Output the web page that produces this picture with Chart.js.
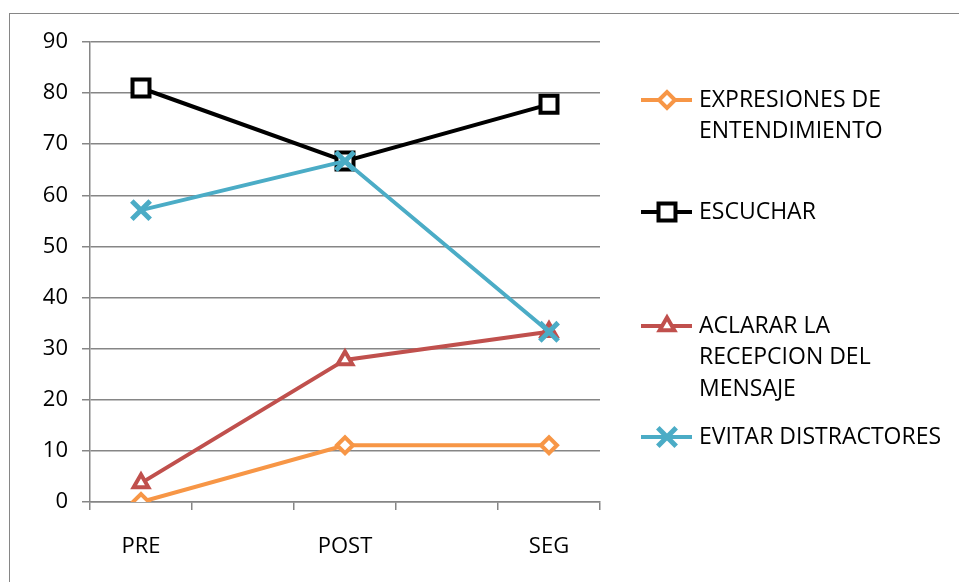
<!DOCTYPE html>
<html>
<head>
<meta charset="utf-8">
<script src="https://cdn.jsdelivr.net/npm/chart.js@4/dist/chart.umd.min.js"></script>
<style>
  html, body { margin: 0; padding: 0; background: #fff; overflow: hidden; }
  #wrap { position: relative; width: 959px; height: 582px; }
  #frame { position: absolute; left: 9px; top: 13px; width: 1200px; height: 900px;
           border: 1px solid #868686; box-sizing: border-box; }
  canvas { position: absolute; left: 0; top: 0; }
</style>
</head>
<body>
<div id="wrap">
  <div id="frame"></div>
  <canvas id="c" width="959" height="582"></canvas>
</div>
<script>
// Measurement phases
const categories = ['PRE', 'POST', 'SEG'];

// Series (percentages per phase)
const expresiones = [0, 11.1, 11.1];
const escuchar    = [81, 66.7, 77.8];
const aclarar     = [3.7, 27.8, 33.3];
const evitar      = [57.1, 66.7, 33.3];

// Legend labels, one entry per series, split into lines
const seriesLabels = [
  ['EXPRESIONES DE', 'ENTENDIMIENTO'],
  ['ESCUCHAR'],
  ['ACLARAR LA', 'RECEPCION DEL', 'MENSAJE'],
  ['EVITAR DISTRACTORES']
];

// Value axis
const yMin = 0, yMax = 90, yStep = 10;

const FONT = 'Open Sans';
const GRID = '#868686';

// Each phase sits in its own slot with an unlabeled spacer slot between phases
const slots = categories.flatMap((c, i) => i < categories.length - 1 ? [c, ''] : [c]);
const spread = vals => vals.flatMap((v, i) => i < vals.length - 1 ? [v, null] : [v]);

function series(label, values, color, style, radius, markerWidth, order) {
  return {
    label: label.join(' '),
    data: spread(values),
    borderColor: color,
    backgroundColor: color,
    borderWidth: 4,
    pointStyle: style,
    pointRadius: radius,
    pointBorderWidth: markerWidth,
    pointBorderColor: color,
    pointBackgroundColor: '#fff',
    spanGaps: true,
    tension: 0,
    order: order
  };
}

const datasets = [
  series(seriesLabels[0], expresiones, '#F79646', 'rectRot', 8, 4, 4),
  series(seriesLabels[1], escuchar,    '#000000', 'rect',   12, 4, 3),
  series(seriesLabels[2], aclarar,     '#C0504D', 'triangle', 8.5, 4, 2),
  series(seriesLabels[3], evitar,      '#4BACC6', 'crossRot', 13, 5, 1)
];

// Legend on the right: line sample with marker, followed by wrapped text
const sideLegend = {
  id: 'sideLegend',
  afterDraw(chart) {
    const ctx = chart.ctx;
    const firstLineY = [100, 212, 326, 437];
    const lineH = 31.5;
    ctx.save();
    chart.data.datasets.forEach((ds, i) => {
      const y = firstLineY[i];
      ctx.strokeStyle = ds.borderColor;
      ctx.lineWidth = 4;
      ctx.beginPath();
      ctx.moveTo(641, y);
      ctx.lineTo(692, y);
      ctx.stroke();
      ctx.fillStyle = '#fff';
      ctx.lineWidth = ds.pointBorderWidth;
      Chart.helpers.drawPoint(ctx, {
        pointStyle: ds.pointStyle, radius: ds.pointRadius,
        borderWidth: ds.pointBorderWidth, rotation: 0
      }, 667, y);
      ctx.fillStyle = '#000';
      ctx.font = '23px "' + FONT + '"';
      ctx.textAlign = 'left';
      ctx.textBaseline = 'middle';
      seriesLabels[i].forEach((t, k) => ctx.fillText(t, 699, y + k * lineH));
    });
    ctx.restore();
  }
};

new Chart(document.getElementById('c'), {
  type: 'line',
  data: { labels: slots, datasets: datasets },
  plugins: [sideLegend],
  options: {
    responsive: false,
    animation: false,
    devicePixelRatio: 1,
    layout: { padding: { left: 0, top: 42, right: 359, bottom: 0 } },
    plugins: { legend: { display: false }, tooltip: { enabled: false } },
    scales: {
      x: {
        type: 'category',
        offset: true,
        grid: { offset: true, drawOnChartArea: false, drawTicks: true, tickLength: 8,
                color: GRID, lineWidth: 1.5 },
        border: { display: true, color: GRID, width: 1.5 },
        ticks: { autoSkip: false, maxRotation: 0, padding: 24, color: '#000',
                 font: { family: FONT, size: 22 } },
        afterFit(s) { s.height = 80; }
      },
      y: {
        min: yMin, max: yMax,
        grid: { color: GRID, lineWidth: 1.5, tickLength: 8 },
        border: { display: true, color: GRID, width: 1.5 },
        ticks: { stepSize: yStep, padding: 14, color: '#000',
                 font: { family: FONT, size: 22 } },
        afterFit(s) { s.width = 90; }
      }
    }
  }
});
</script>
</body>
</html>
